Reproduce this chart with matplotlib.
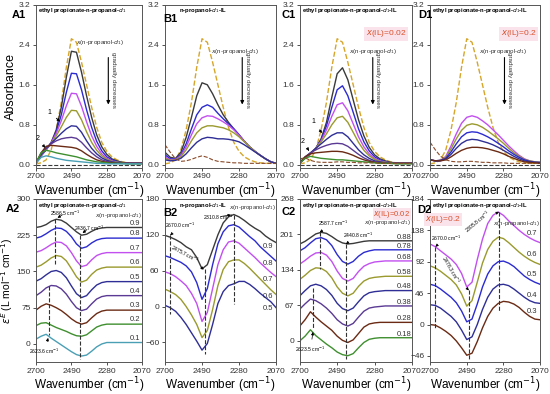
import matplotlib.pyplot as plt
import numpy as np

# wavenumber grid (cm-1)
wn = [2700, 2670, 2640, 2610, 2580, 2550, 2520, 2490, 2460, 2430, 2400,
      2370, 2340, 2310, 2280, 2250, 2220, 2190, 2160, 2130, 2100, 2070]

# ---------- A1: ethyl propionate - n-propanol-d1 ----------
a1_pure = [0.02, 0.04, 0.1, 0.3, 0.7, 1.25, 1.95, 2.52, 2.45, 2.05, 1.6, 1.15, 0.75, 0.45, 0.27, 0.16, 0.1, 0.06, 0.04, 0.03, 0.03, 0.03]
a1_x09 = [0.04, 0.18, 0.3, 0.45, 0.7, 1.15, 1.75, 2.27, 2.25, 1.85, 1.38, 0.95, 0.6, 0.36, 0.21, 0.12, 0.08, 0.05, 0.04, 0.03, 0.03, 0.03]
a1_x08 = [0.04, 0.18, 0.3, 0.44, 0.66, 1.0, 1.45, 1.83, 1.82, 1.5, 1.1, 0.75, 0.47, 0.28, 0.16, 0.1, 0.06, 0.04, 0.03, 0.03, 0.03, 0.03]
a1_x07 = [0.04, 0.19, 0.31, 0.44, 0.63, 0.88, 1.18, 1.43, 1.42, 1.17, 0.86, 0.58, 0.37, 0.22, 0.13, 0.08, 0.05, 0.04, 0.03, 0.03, 0.03, 0.03]
a1_x06 = [0.04, 0.2, 0.32, 0.43, 0.58, 0.76, 0.95, 1.09, 1.08, 0.9, 0.66, 0.45, 0.29, 0.18, 0.11, 0.07, 0.05, 0.04, 0.03, 0.03, 0.03, 0.03]
a1_x05 = [0.04, 0.2, 0.33, 0.43, 0.53, 0.63, 0.72, 0.78, 0.77, 0.65, 0.48, 0.33, 0.22, 0.14, 0.09, 0.06, 0.04, 0.03, 0.03, 0.03, 0.03, 0.03]
a1_x04 = [0.04, 0.21, 0.34, 0.42, 0.48, 0.52, 0.54, 0.55, 0.53, 0.45, 0.34, 0.24, 0.16, 0.1, 0.07, 0.05, 0.04, 0.03, 0.03, 0.03, 0.03, 0.03]
a1_x03 = [0.04, 0.24, 0.37, 0.39, 0.38, 0.37, 0.36, 0.35, 0.33, 0.28, 0.21, 0.15, 0.1, 0.07, 0.05, 0.04, 0.03, 0.03, 0.03, 0.03, 0.03, 0.03]
a1_x02 = [0.04, 0.24, 0.29, 0.27, 0.24, 0.22, 0.2, 0.18, 0.16, 0.13, 0.1, 0.08, 0.06, 0.05, 0.04, 0.03, 0.03, 0.03, 0.02, 0.02, 0.02, 0.02]
a1_x01 = [0.03, 0.15, 0.18, 0.16, 0.13, 0.11, 0.09, 0.08, 0.07, 0.06, 0.05, 0.04, 0.03, 0.03, 0.02, 0.02, 0.02, 0.02, 0.02, 0.02, 0.02, 0.02]
a1_ester = [0.0, 0.0, 0.0, 0.0, 0.0, 0.0, 0.0, 0.0, 0.0, 0.0, 0.0, 0.0, 0.0, 0.0, 0.0, 0.0, 0.0, 0.0, 0.0, 0.0, 0.0, 0.0]

# ---------- B1: n-propanol-d1 - IL ----------
b1_il = [0.4, 0.25, 0.12, 0.07, 0.08, 0.11, 0.15, 0.18, 0.15, 0.1, 0.07, 0.06, 0.05, 0.04, 0.04, 0.03, 0.03, 0.03, 0.03, 0.03, 0.03, 0.03]
b1_x09 = [0.25, 0.15, 0.13, 0.25, 0.55, 0.95, 1.38, 1.64, 1.6, 1.42, 1.2, 1.0, 0.85, 0.72, 0.6, 0.47, 0.36, 0.27, 0.19, 0.12, 0.06, 0.03]
b1_x08 = [0.2, 0.12, 0.12, 0.2, 0.42, 0.72, 1.0, 1.15, 1.2, 1.15, 1.03, 0.92, 0.82, 0.72, 0.6, 0.47, 0.36, 0.27, 0.19, 0.12, 0.06, 0.03]
b1_x07 = [0.16, 0.1, 0.11, 0.18, 0.36, 0.6, 0.82, 0.94, 0.98, 0.97, 0.92, 0.86, 0.79, 0.7, 0.59, 0.47, 0.36, 0.27, 0.19, 0.12, 0.06, 0.03]
b1_x06 = [0.13, 0.09, 0.1, 0.16, 0.3, 0.48, 0.64, 0.74, 0.78, 0.78, 0.76, 0.74, 0.7, 0.64, 0.56, 0.46, 0.36, 0.27, 0.19, 0.12, 0.06, 0.03]
b1_x05 = [0.1, 0.08, 0.09, 0.13, 0.22, 0.34, 0.45, 0.52, 0.55, 0.54, 0.52, 0.52, 0.51, 0.49, 0.46, 0.4, 0.33, 0.26, 0.19, 0.12, 0.06, 0.03]

# ---------- C1: ester - n-propanol-d1 - IL, x(IL)=0.02 ----------
c1_x088 = [0.04, 0.13, 0.22, 0.33, 0.52, 0.85, 1.35, 1.82, 1.94, 1.7, 1.3, 0.9, 0.58, 0.35, 0.2, 0.12, 0.08, 0.05, 0.04, 0.03, 0.03, 0.03]
c1_x078 = [0.04, 0.13, 0.22, 0.33, 0.5, 0.78, 1.15, 1.5, 1.58, 1.38, 1.05, 0.72, 0.46, 0.28, 0.16, 0.1, 0.06, 0.04, 0.03, 0.03, 0.03, 0.03]
c1_x068 = [0.04, 0.14, 0.22, 0.33, 0.48, 0.7, 0.97, 1.2, 1.24, 1.08, 0.82, 0.56, 0.36, 0.22, 0.13, 0.08, 0.05, 0.04, 0.03, 0.03, 0.03, 0.03]
c1_x058 = [0.04, 0.14, 0.23, 0.33, 0.46, 0.62, 0.8, 0.94, 0.97, 0.85, 0.65, 0.45, 0.29, 0.18, 0.11, 0.07, 0.05, 0.04, 0.03, 0.03, 0.03, 0.03]
c1_x048 = [0.04, 0.15, 0.24, 0.33, 0.42, 0.51, 0.59, 0.64, 0.64, 0.56, 0.43, 0.3, 0.2, 0.13, 0.08, 0.06, 0.04, 0.03, 0.03, 0.03, 0.03, 0.03]
c1_x038 = [0.04, 0.16, 0.24, 0.3, 0.35, 0.39, 0.42, 0.43, 0.42, 0.37, 0.29, 0.21, 0.14, 0.09, 0.06, 0.05, 0.04, 0.03, 0.03, 0.03, 0.03, 0.03]
c1_x028 = [0.04, 0.16, 0.22, 0.24, 0.25, 0.26, 0.27, 0.27, 0.26, 0.23, 0.19, 0.14, 0.1, 0.07, 0.05, 0.04, 0.03, 0.03, 0.03, 0.03, 0.03, 0.03]
c1_x018 = [0.03, 0.13, 0.17, 0.15, 0.13, 0.12, 0.11, 0.1, 0.1, 0.09, 0.08, 0.07, 0.06, 0.05, 0.04, 0.03, 0.03, 0.03, 0.02, 0.02, 0.02, 0.02]
c1_il = [0.12, 0.14, 0.09, 0.06, 0.05, 0.05, 0.05, 0.06, 0.06, 0.05, 0.05, 0.04, 0.04, 0.04, 0.04, 0.03, 0.03, 0.03, 0.03, 0.03, 0.03, 0.03]

# ---------- D1: x(IL)=0.2 ----------
d1_x07 = [0.1, 0.08, 0.09, 0.17, 0.38, 0.62, 0.83, 0.95, 0.98, 0.95, 0.88, 0.8, 0.7, 0.6, 0.49, 0.38, 0.28, 0.19, 0.12, 0.08, 0.06, 0.05]
d1_x06 = [0.1, 0.08, 0.09, 0.15, 0.32, 0.52, 0.69, 0.79, 0.82, 0.8, 0.75, 0.68, 0.6, 0.52, 0.43, 0.33, 0.24, 0.17, 0.11, 0.08, 0.06, 0.05]
d1_x05 = [0.1, 0.08, 0.09, 0.13, 0.26, 0.42, 0.56, 0.64, 0.66, 0.65, 0.61, 0.56, 0.5, 0.43, 0.36, 0.28, 0.21, 0.15, 0.1, 0.07, 0.05, 0.05]
d1_x04 = [0.1, 0.08, 0.08, 0.12, 0.21, 0.33, 0.43, 0.49, 0.51, 0.5, 0.47, 0.44, 0.4, 0.35, 0.29, 0.23, 0.17, 0.12, 0.08, 0.06, 0.05, 0.04]
d1_x03 = [0.1, 0.08, 0.08, 0.1, 0.16, 0.23, 0.29, 0.33, 0.35, 0.35, 0.34, 0.32, 0.29, 0.26, 0.22, 0.17, 0.13, 0.09, 0.06, 0.05, 0.04, 0.03]
d1_il = [0.45, 0.3, 0.17, 0.1, 0.07, 0.06, 0.06, 0.07, 0.07, 0.06, 0.05, 0.05, 0.04, 0.04, 0.04, 0.03, 0.03, 0.03, 0.03, 0.03, 0.03, 0.03]

# ---------- A2: excess spectra (offset) ----------
a2_labels = ['0.9', '0.8', '0.7', '0.6', '0.5', '0.4', '0.3', '0.2', '0.1']
a2_x09 = [241, 243, 247, 254, 258, 256, 250, 241, 232, 225, 227, 233, 238, 240, 241, 241, 241, 241, 241, 241, 241, 241]
a2_x08 = [219, 222, 228, 235, 240, 239, 233, 222, 207, 198, 201, 209, 215, 218, 219, 219, 219, 219, 219, 219, 219, 219]
a2_x07 = [190, 193, 199, 206, 211, 210, 203, 189, 172, 160, 163, 174, 183, 187, 189, 189, 189, 189, 189, 189, 189, 189]
a2_x06 = [159, 163, 170, 178, 183, 181, 172, 156, 139, 128, 132, 144, 153, 157, 159, 159, 159, 159, 159, 159, 159, 159]
a2_x05 = [130, 135, 143, 150, 152, 148, 137, 120, 104, 96, 100, 112, 122, 127, 129, 129, 129, 129, 129, 129, 129, 129]
a2_x04 = [100, 107, 116, 121, 120, 114, 103, 88, 75, 69, 72, 83, 93, 98, 100, 100, 100, 100, 100, 100, 100, 100]
a2_x03 = [70, 78, 83, 80, 75, 69, 61, 52, 45, 41, 44, 54, 63, 68, 70, 70, 70, 70, 70, 70, 70, 70]
a2_x02 = [38, 43, 44, 39, 34, 30, 26, 21, 17, 16, 19, 27, 35, 39, 41, 41, 41, 41, 41, 41, 41, 41]
a2_x01 = [10, 16, 20, 12, 5, -2, -9, -16, -22, -25, -23, -15, -6, 0, 3, 3, 3, 3, 3, 3, 3, 3]

# ---------- B2 ----------
b2_labels = ['0.9', '0.8', '0.7', '0.6', '0.5']
b2_x09 = [119, 116, 112, 107, 100, 95, 82, 63, 70, 95, 120, 140, 150, 154, 150, 144, 137, 131, 126, 118, 112, 107]
b2_x08 = [85, 82, 78, 74, 68, 58, 40, 12, 30, 70, 105, 125, 135, 137, 133, 125, 117, 110, 100, 92, 84, 76]
b2_x07 = [58, 55, 50, 43, 35, 22, 5, -25, -10, 30, 70, 95, 108, 110, 106, 98, 90, 82, 73, 65, 57, 50]
b2_x06 = [29, 25, 20, 12, 0, -14, -30, -52, -40, -5, 35, 62, 75, 78, 78, 72, 64, 55, 46, 37, 28, 20]
b2_x05 = [2, -2, -8, -18, -30, -44, -58, -73, -62, -30, 5, 25, 35, 38, 42, 42, 37, 30, 22, 15, 8, -2]

# ---------- C2 ----------
c2_labels = ['0.88', '0.78', '0.68', '0.58', '0.48', '0.38', '0.28', '0.18']
c2_x088 = [183, 188, 195, 202, 205, 203, 197, 190, 185, 183, 184, 186, 188, 189, 189, 189, 189, 189, 189, 189, 189, 189]
c2_x078 = [170, 176, 185, 193, 195, 191, 180, 163, 150, 145, 150, 160, 167, 170, 172, 172, 172, 172, 172, 172, 172, 172]
c2_x068 = [145, 152, 160, 166, 167, 162, 150, 132, 118, 113, 118, 131, 141, 146, 149, 150, 151, 151, 151, 151, 151, 151]
c2_x058 = [116, 124, 133, 138, 137, 131, 119, 102, 90, 85, 90, 103, 113, 118, 120, 121, 122, 122, 122, 122, 122, 122]
c2_x048 = [85, 95, 104, 107, 104, 97, 86, 71, 61, 57, 62, 74, 85, 91, 93, 94, 95, 95, 95, 95, 95, 95]
c2_x038 = [60, 70, 79, 76, 70, 62, 52, 40, 32, 28, 33, 45, 56, 62, 64, 65, 66, 66, 66, 66, 66, 66]
c2_x028 = [28, 40, 55, 45, 36, 28, 20, 9, 1, -3, 2, 14, 26, 32, 34, 35, 35, 35, 35, 35, 35, 35]
c2_x018 = [0, 9, 21, 10, 2, -6, -13, -21, -26, -28, -24, -13, -3, 3, 5, 6, 6, 6, 6, 6, 6, 6]

# ---------- D2 ----------
d2_labels = ['0.7', '0.6', '0.5', '0.4', '0.3']
d2_x07 = [118, 114, 108, 102, 96, 88, 75, 55, 62, 95, 125, 148, 160, 165, 160, 152, 145, 138, 132, 127, 123, 120]
d2_x06 = [86, 83, 78, 72, 66, 58, 45, 27, 35, 62, 90, 110, 122, 128, 126, 120, 113, 106, 100, 95, 91, 88]
d2_x05 = [59, 57, 52, 46, 40, 32, 20, 4, 8, 30, 55, 74, 86, 92, 93, 90, 85, 78, 71, 66, 62, 59]
d2_x04 = [29, 28, 24, 18, 12, 4, -8, -22, -18, 0, 22, 40, 52, 58, 59, 57, 52, 46, 40, 35, 32, 31]
d2_x03 = [0, -1, -5, -10, -16, -24, -34, -45, -42, -25, -5, 12, 24, 31, 34, 33, 30, 25, 18, 12, 8, 7]

# colours
gray = '#3a3a3a'
blue = '#2b2bd0'
violet = '#c24ff0'
olive = '#9a9a2e'
navy = '#2e2e96'
purple = '#5a3a94'
brown = '#6a2a14'
green = '#3f8f2f'
teal = '#4a9fb5'
yellow = '#d6a62a'
dbrown = '#8a4a2a'
red = '#d8502a'

plt.rcParams['font.family'] = ['Liberation Sans', 'DejaVu Sans']
plt.rcParams['mathtext.fontset'] = 'dejavusans'

fig = plt.figure(figsize=(5.5, 3.94), dpi=100)

lefts = [0.0655, 0.300, 0.545, 0.782]
widths = [0.193, 0.202, 0.204, 0.200]
top_b, bot_b, h = 0.574, 0.081, 0.414

xlab = 'Wavenumber (cm$^{-1}$)'
ttl1 = 'ethyl propionate-n-propanol-$d_1$'
ttl2 = 'n-propanol-$d_1$-IL'
ttl3 = 'ethyl propionate-n-propanol-$d_1$-IL'
xprop = '$x$(n-propanol-$d_1$)'


def style(ax, yt, ylim, title, label, lx, ly, tx=0.02):
    ax.set_xlim(2700, 2070)
    ax.set_xticks([2700, 2490, 2280, 2070])
    ax.set_ylim(*ylim)
    ax.set_yticks(yt)
    ax.tick_params(labelsize=6, length=2.5, width=0.6, pad=1.5, colors='#333333')
    for s in ax.spines.values():
        s.set_linewidth(0.7)
        s.set_color('#555555')
    ax.set_xlabel(xlab, fontsize=8.5, labelpad=0.5)
    ax.text(tx, 0.99, title, transform=ax.transAxes, fontsize=4.2, fontweight='bold',
            va='top', ha='left')
    fig.text(lx / 550, 1 - ly / 394, label, fontsize=8, fontweight='bold',
             va='center', ha='left')


def trend(ax, xt, yt_, xa):
    ax.text(xt, yt_, xprop, fontsize=4.5, ha='center', va='center', color='#333333')
    ax.annotate('', xy=(xa, 1.15), xytext=(xa, 2.2),
                arrowprops=dict(arrowstyle='-|>', color='k', lw=0.8, mutation_scale=5))
    ax.text(xa - 28, 1.7, 'gradually decreases', rotation=270, fontsize=4.5,
            ha='center', va='center', color='#333333')


ytop = [0.0, 0.8, 1.6, 2.4, 3.2]

# ---- A1 ----
ax = fig.add_axes([lefts[0], top_b, widths[0], h])
ax.plot(wn, a1_pure, '--', color=yellow, lw=1)
for y, c in zip([a1_x09, a1_x08, a1_x07, a1_x06, a1_x05, a1_x04, a1_x03, a1_x02, a1_x01],
                [gray, blue, violet, olive, navy, purple, brown, green, teal]):
    ax.plot(wn, y, color=c, lw=1)
ax.plot(wn, a1_ester, '--', color=gray, lw=0.8)
style(ax, ytop, (-0.06, 3.2), ttl1, 'A1', 12, 15)
ax.set_ylabel('Absorbance', fontsize=9, labelpad=1)
trend(ax, 2320, 2.45, 2271)
ax.annotate('1', xy=(2545, 0.83), xytext=(2620, 1.05), fontsize=5, ha='center', va='center',
            arrowprops=dict(arrowstyle='-|>', color='k', lw=0.6, mutation_scale=4))
ax.annotate('2', xy=(2646, 0.34), xytext=(2690, 0.53), fontsize=5, ha='center', va='center',
            arrowprops=dict(arrowstyle='-|>', color='k', lw=0.6, mutation_scale=4))

# ---- B1 ----
ax = fig.add_axes([lefts[1], top_b, widths[1], h])
ax.plot(wn, a1_pure, '--', color=yellow, lw=1)
for y, c in zip([b1_x09, b1_x08, b1_x07, b1_x06, b1_x05], [gray, blue, violet, olive, navy]):
    ax.plot(wn, y, color=c, lw=1)
ax.plot(wn, b1_il, '--', color=dbrown, lw=0.8)
style(ax, ytop, (-0.06, 3.2), ttl2, 'B1', 163, 19, tx=0.13)
trend(ax, 2300, 2.27, 2262)

# ---- C1 ----
ax = fig.add_axes([lefts[2], top_b, widths[2], h])
ax.plot(wn, a1_pure, '--', color=yellow, lw=1)
for y, c in zip([c1_x088, c1_x078, c1_x068, c1_x058, c1_x048, c1_x038, c1_x028, c1_x018],
                [gray, blue, violet, olive, navy, purple, brown, green]):
    ax.plot(wn, y, color=c, lw=1)
ax.plot(wn, c1_il, '--', color=dbrown, lw=0.8)
ax.plot(wn, a1_ester, '--', color=gray, lw=0.8)
style(ax, ytop, (-0.06, 3.2), ttl3, 'C1', 282, 15)
ax.text(2100, 2.62, '$x$(IL)=0.02', fontsize=6, color=red, ha='right', va='center',
        bbox=dict(boxstyle='square,pad=0.2', fc='#fbe3ec', ec='none'))
trend(ax, 2290, 2.27, 2290)
ax.annotate('1', xy=(2566, 0.59), xytext=(2624, 0.87), fontsize=5, ha='center', va='center',
            arrowprops=dict(arrowstyle='-|>', color='k', lw=0.6, mutation_scale=4))
ax.annotate('2', xy=(2648, 0.28), xytext=(2683, 0.47), fontsize=5, ha='center', va='center',
            arrowprops=dict(arrowstyle='-|>', color='k', lw=0.6, mutation_scale=4))

# ---- D1 ----
ax = fig.add_axes([lefts[3], top_b, widths[3], h])
ax.plot(wn, a1_pure, '--', color=yellow, lw=1)
for y, c in zip([d1_x07, d1_x06, d1_x05, d1_x04, d1_x03], [violet, olive, blue, navy, brown]):
    ax.plot(wn, y, color=c, lw=1)
ax.plot(wn, d1_il, '--', color=dbrown, lw=0.8)
ax.plot(wn, a1_ester, '--', color=gray, lw=0.8)
style(ax, ytop, (-0.06, 3.2), ttl3, 'D1', 418, 15)
ax.text(2090, 2.62, '$x$(IL)=0.2', fontsize=6, color=red, ha='right', va='center',
        bbox=dict(boxstyle='square,pad=0.2', fc='#fbe3ec', ec='none'))
trend(ax, 2280, 2.27, 2274)


def side_labels(ax, curves, labels, dy):
    for y, t in zip(curves, labels):
        ax.text(2115, y[-2] + dy, t, fontsize=5.5, ha='center', va='center', color='#333333')


def vline(ax, x, y0, y1):
    ax.plot([x, x], [y0, y1], '--', color='#333333', lw=0.8)


def mark(ax, txt, xy, xyt, rot=0, ha='center'):
    ax.annotate(txt, xy=xy, xytext=xyt, fontsize=3.6, rotation=rot, ha=ha, va='center',
                arrowprops=dict(arrowstyle='-|>', color='k', lw=0.5, mutation_scale=4))


# ---- A2 ----
ax = fig.add_axes([lefts[0], bot_b, widths[0], h])
a2 = [a2_x09, a2_x08, a2_x07, a2_x06, a2_x05, a2_x04, a2_x03, a2_x02, a2_x01]
for y, c in zip(a2, [gray, blue, violet, olive, navy, purple, brown, green, teal]):
    ax.plot(wn, y, color=c, lw=1)
style(ax, [0, 75, 150, 225, 300], (-37.5, 300), ttl1, 'A2', 6, 209)
ax.set_ylabel('$\\varepsilon^E$ (L mol$^{-1}$ cm$^{-1}$)', fontsize=7.5, labelpad=1)
side_labels(ax, a2, a2_labels, 9)
ax.text(2075, 265, xprop, fontsize=4.3, ha='right', va='center', color='#333333')
vline(ax, 2586.5, 258, 165)
vline(ax, 2436.7, 226, -32)
vline(ax, 2623.6, 120, 18)
mark(ax, '2586.5 cm$^{-1}$', (2586.5, 258), (2530, 270))
mark(ax, '2436.7 cm$^{-1}$', (2436.7, 226), (2385, 240))
mark(ax, '2623.6 cm$^{-1}$', (2623.6, 18), (2650, -16))

# ---- B2 ----
ax = fig.add_axes([lefts[1], bot_b, widths[1], h])
b2 = [b2_x09, b2_x08, b2_x07, b2_x06, b2_x05]
for y, c in zip(b2, [gray, blue, violet, olive, navy]):
    ax.plot(wn, y, color=c, lw=1)
style(ax, [-60, 0, 60, 120, 180], (-93, 180), ttl2, 'B2', 163, 213, tx=0.13)
side_labels(ax, b2, b2_labels, -12)
ax.text(2075, 166, xprop, fontsize=4.3, ha='right', va='center', color='#333333')
vline(ax, 2670, 119, -12)
vline(ax, 2475.7, 62, -80)
vline(ax, 2310.8, 154, 5)
mark(ax, '2670.0 cm$^{-1}$', (2670, 119), (2615, 136))
mark(ax, '2475.7 cm$^{-1}$', (2480, 62), (2590, 88), rot=-28)
mark(ax, '2310.8 cm$^{-1}$', (2310.8, 154), (2400, 150))

# ---- C2 ----
ax = fig.add_axes([lefts[2], bot_b, widths[2], h])
c2 = [c2_x088, c2_x078, c2_x068, c2_x058, c2_x048, c2_x038, c2_x028, c2_x018]
for y, c in zip(c2, [gray, blue, violet, olive, navy, purple, brown, green]):
    ax.plot(wn, y, color=c, lw=1)
style(ax, [0, 67, 134, 201, 268], (-40, 268), ttl3, 'C2', 282, 212)
side_labels(ax, c2, c2_labels, 7)
ax.text(2078, 239, '$x$(IL)=0.02', fontsize=5.5, color=red, ha='right', va='center',
        bbox=dict(boxstyle='square,pad=0.05', fc='#fbe3ec', ec='none'))
ax.text(2075, 223, xprop, fontsize=4.3, ha='right', va='center', color='#333333')
vline(ax, 2587.7, 205, 135)
vline(ax, 2440.8, 183, -35)
vline(ax, 2623.5, 100, 22)
mark(ax, '2587.7 cm$^{-1}$', (2587.7, 205), (2515, 222))
mark(ax, '2440.8 cm$^{-1}$', (2440.8, 183), (2375, 199))
mark(ax, '2623.5 cm$^{-1}$', (2623.5, 22), (2640, -16))

# ---- D2 ----
ax = fig.add_axes([lefts[3], bot_b, widths[3], h])
d2 = [d2_x07, d2_x06, d2_x05, d2_x04, d2_x03]
for y, c in zip(d2, [violet, olive, blue, navy, brown]):
    ax.plot(wn, y, color=c, lw=1)
style(ax, [-46, 0, 46, 92, 138, 184], (-55, 184), ttl3, 'D2', 417, 210)
side_labels(ax, d2, d2_labels, 11)
ax.text(2625, 154, '$x$(IL)=0.2', fontsize=6, color=red, ha='center', va='center',
        bbox=dict(boxstyle='square,pad=0.1', fc='#fbe3ec', ec='none'))
ax.text(2075, 148, xprop, fontsize=4.3, ha='right', va='center', color='#333333')
vline(ax, 2670, 114, -5)
vline(ax, 2478.3, 50, -52)
vline(ax, 2305.8, 165, 20)
mark(ax, '2670.0 cm$^{-1}$', (2670, 114), (2610, 127))
mark(ax, '2478.3 cm$^{-1}$', (2478.3, 50), (2580, 80), rot=-60)
mark(ax, '2305.8 cm$^{-1}$', (2305.8, 165), (2430, 150), rot=40)

fig.savefig('out.png', dpi=100)
